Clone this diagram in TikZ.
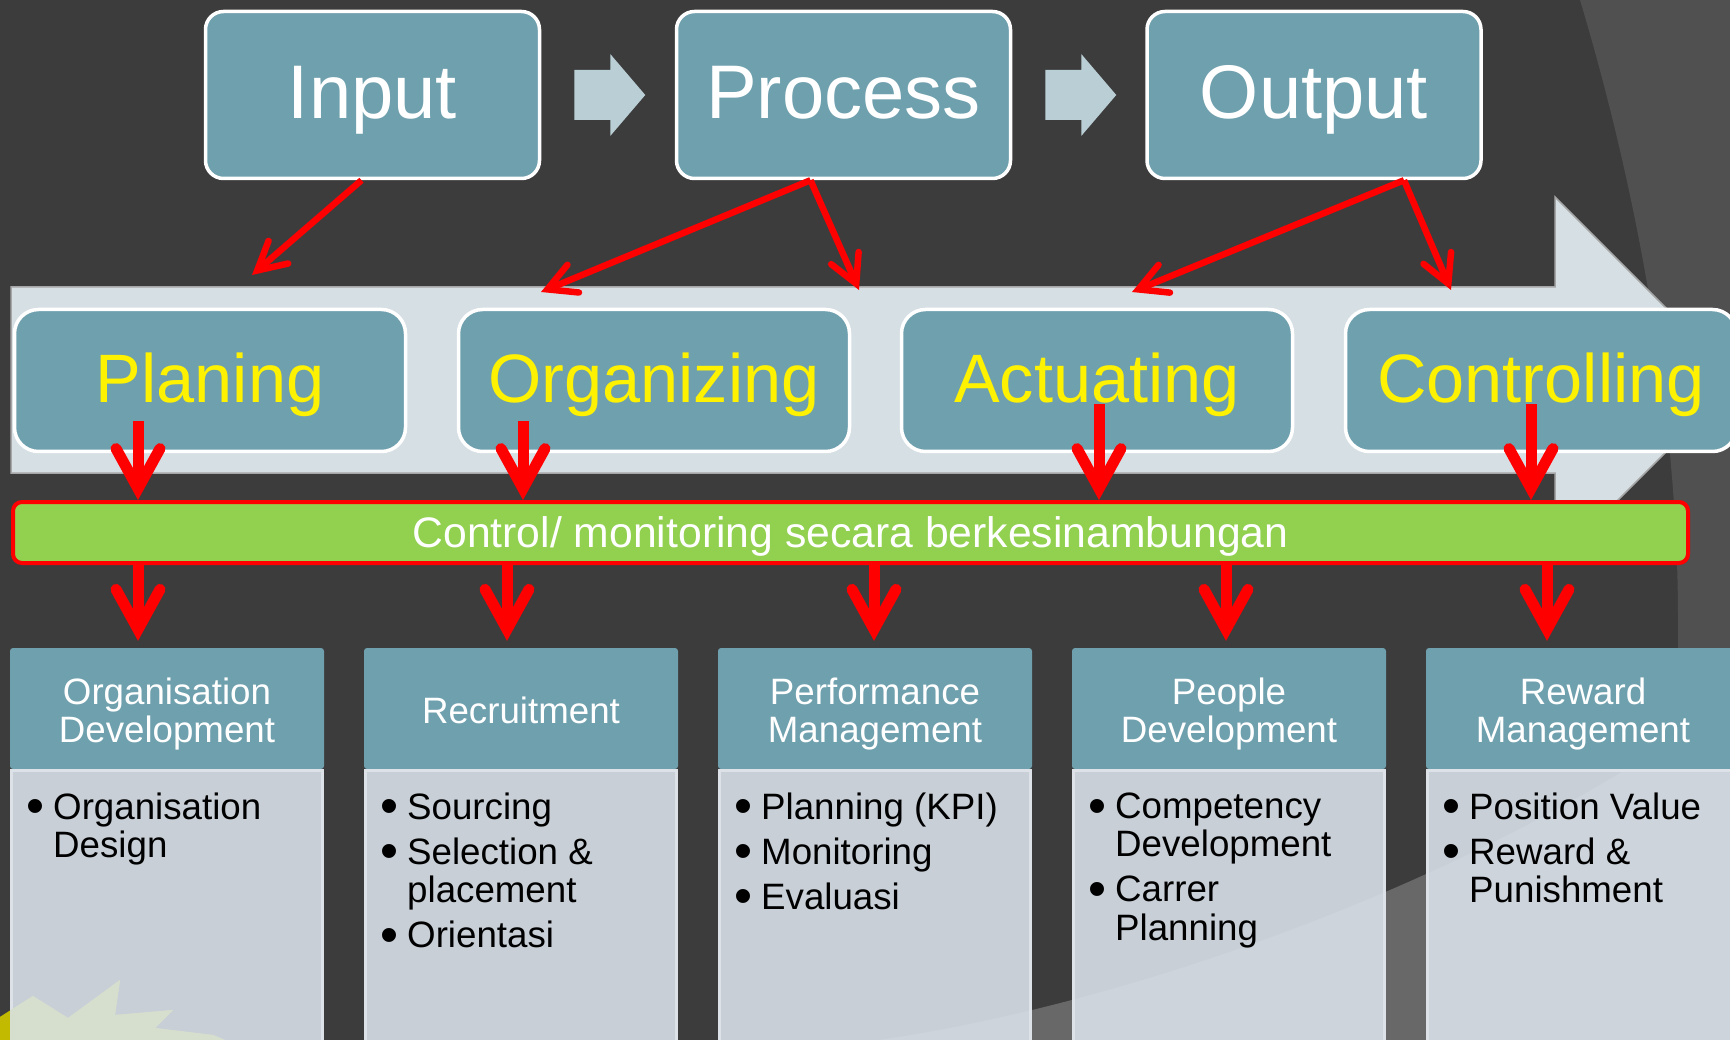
\documentclass[tikz,border=0pt]{standalone}
\usepackage{fontspec}
\setmainfont{Liberation Sans}
\usepackage{graphicx}
\usepackage{tikz}
\usetikzlibrary{arrows.meta, calc}

\definecolor{latar}{HTML}{3C3C3C}
\definecolor{latarterang}{HTML}{505050}
\definecolor{busur}{HTML}{686868}
\definecolor{biru}{HTML}{6FA0AE}
\definecolor{pita}{HTML}{D6DFE4}
\definecolor{abupanah}{HTML}{BACED5}
\definecolor{hijau}{HTML}{92D050}
\definecolor{isikotak}{HTML}{D8E0E8}
\definecolor{garisisi}{HTML}{DCE2E7}
\definecolor{kuning}{HTML}{C2BA00}
\definecolor{bintang}{HTML}{D6DECE}

\newcommand{\butir}{\makebox[27pt][l]{\raisebox{-4.5pt}{\scalebox{1.4}{\textbullet}}}}
\newcommand{\sambung}{\hspace*{27pt}}
\newcommand{\tinggi}{\rule{0pt}{38pt}}

\tikzset{
  atas/.style={draw=white, line width=3.5pt, fill=biru, rounded corners=18pt,
    minimum width=334pt, minimum height=167pt, text=white,
    font=\fontsize{76}{80}\selectfont, text height=54pt, text depth=6pt},
  tengah/.style={draw=white, line width=3.5pt, fill=biru, rounded corners=24pt,
    minimum width=391pt, minimum height=142pt, text=yellow,
    font=\fontsize{68.5}{72}\selectfont, text height=49pt, text depth=5pt},
  bar/.style={draw=red, line width=4pt, fill=hijau, rounded corners=9pt,
    minimum width=1675pt, minimum height=61pt, text=white,
    font=\fontsize{42.7}{46}\selectfont, text height=30pt, text depth=0pt},
  kepala/.style={fill=biru, rounded corners=3pt, minimum width=314pt,
    minimum height=121pt, inner sep=0pt, text=white, align=center,
    font=\fontsize{36.7}{38}\selectfont},
  badan/.style={fill=isikotak, fill opacity=0.9, draw=garisisi, line width=3pt,
    minimum width=311pt, minimum height=300pt, anchor=north},
  teks/.style={anchor=north west, inner sep=0pt, align=left, text=black,
    font=\fontsize{36.7}{38.4}\selectfont},
  panah/.style={draw=red, line width=11pt,
    -{Straight Barb[length=40pt, width=44pt, line cap=round, line join=miter]}},
  panahmiring/.style={draw=red, line width=6.5pt,
    -{Straight Barb[length=28pt, width=30pt, line cap=round, line join=miter]}}
}

\begin{document}
\begin{tikzpicture}[x=1pt, y=-1pt]

% latar
\fill[latar] (0,0) rectangle (1730,1040);
\useasboundingbox (0,0) rectangle (1730,1040);
\fill[latarterang] (1580,0) .. controls (1640,200) and (1678,420) .. (1678,620)
  -- (1678,1040) -- (1730,1040) -- (1730,0) -- cycle;
\fill[busur] (880,1040) .. controls (1150,1000) and (1500,870) .. (1730,700)
  -- (1730,1040) -- cycle;
\fill[kuning] (-5,1040) -- (-5,1020) -- (33,996) -- (68,1018) -- (120,980)
  -- (115,1015) -- (173,1010) -- (155,1028) -- (213,1035) -- (225,1040) -- cycle;

% kotak atas
\node[atas] (input) at (372.5,95) {Input};
\node[atas] (proses) at (843.5,95) {Process};
\node[atas] (output) at (1314,95) {Output};

\fill[abupanah] ($(input.east)+(33,-25)$) -- ++(36,0) -- ++(0,-16) -- ++(35,41)
  -- ++(-35,41) -- ++(0,-16) -- ++(-36,0) -- cycle;
\fill[abupanah] ($(proses.east)+(33,-25)$) -- ++(36,0) -- ++(0,-16) -- ++(35,41)
  -- ++(-35,41) -- ++(0,-16) -- ++(-36,0) -- cycle;

% pita panah besar
\filldraw[fill=pita, draw=black!35, line width=1.5pt] (11,287) -- (1555,287)
  -- (1555,197) -- (1738,380) -- (1555,563) -- (1555,473) -- (11,473) -- cycle;

% fungsi manajemen
\node[tengah] (plan) at (210,380.5) {Planing};
\node[tengah] (org) at (654,380.5) {Organizing};
\node[tengah] (akt) at (1097,380.5) {Actuating};
\node[tengah] (kon) at (1541,380.5) {Controlling};

\node[bar] (kontrol) at (850.5,532.5) {Control/ monitoring secara berkesinambungan};

% kotak bawah
\node[kepala] (od) at (167,708.5) {\tinggi Organisation\\Development};
\node[kepala] (rek) at (521,708.5) {\tinggi\vphantom{p}Recruitment};
\node[kepala] (kin) at (875,708.5) {\tinggi Performance\\Management};
\node[kepala] (pd) at (1229,708.5) {\tinggi People\\Development};
\node[kepala] (rm) at (1583,708.5) {\tinggi Reward\\Management};

\node[badan] (b1) at (od.south) {};
\node[badan] (b2) at (rek.south) {};
\node[badan] (b3) at (kin.south) {};
\node[badan] (b4) at (pd.south) {};
\node[badan] (b5) at (rm.south) {};

\begin{scope}
  \clip (b1.north west) rectangle (b1.south east);
  \fill[bintang] (-5,1040) -- (-5,1020) -- (33,996) -- (68,1018)
    -- (120,980) -- (115,1015) -- (173,1010) -- (155,1028) -- (213,1035)
    -- (225,1040) -- cycle;
\end{scope}

\node[teks] (t1) at ($(b1.north west)+(16,23.5)$)
  {\butir Organisation\\ \sambung Design};
\node[teks] (t2) at ($(b2.north west)+(16,23.5)$)
  {\butir Sourcing\\[6.6pt] \butir Selection \&\\ \sambung placement\\[6.6pt] \butir Orientasi};
\node[teks] (t3) at ($(b3.north west)+(16,23.5)$)
  {\butir Planning (KPI)\\[6.6pt] \butir Monitoring\\[6.6pt] \butir Evaluasi};
\node[teks] (t4) at ($(b4.north west)+(16,23.5)$)
  {\butir Competency\\ \sambung Development\\[6.6pt] \butir Carrer\\ \sambung Planning};
\node[teks] (t5) at ($(b5.north west)+(16,23.5)$)
  {\butir Position Value\\[6.6pt] \butir Reward \&\\ \sambung Punishment};

% panah merah
\coordinate (u1) at (252,275);
\coordinate (u2) at (541,292);
\coordinate (u3) at (859,290);
\coordinate (u4) at (1132,292);
\coordinate (u5) at (1451,290);
\draw[panahmiring] ([xshift=-11pt]input.south) -- (u1);
\draw[panahmiring] ([xshift=-33pt]proses.south) -- (u2);
\draw[panahmiring] ([xshift=-33pt]proses.south) -- (u3);
\draw[panahmiring] ([xshift=90pt]output.south) -- (u4);
\draw[panahmiring] ([xshift=90pt]output.south) -- (u5);

\draw[panah] ([xshift=-72pt,yshift=32pt]plan.south) coordinate (a1) -- (a1 |- kontrol.north);
\draw[panah] ([xshift=-131pt,yshift=32pt]org.south) coordinate (a2) -- (a2 |- kontrol.north);
\draw[panah] ([xshift=2pt,yshift=49pt]akt.south) coordinate (a3) -- (a3 |- kontrol.north);
\draw[panah] ([xshift=-10pt,yshift=49pt]kon.south) coordinate (a4) -- (a4 |- kontrol.north);

\path ([xshift=-29pt,yshift=7pt]od.north) coordinate (c1);
\path ([xshift=-14pt,yshift=7pt]rek.north) coordinate (c2);
\path ([xshift=-1pt,yshift=7pt]kin.north) coordinate (c3);
\path ([xshift=-3pt,yshift=7pt]pd.north) coordinate (c4);
\path ([xshift=-36pt,yshift=7pt]rm.north) coordinate (c5);
\draw[panah] (c1 |- kontrol.south) -- (c1);
\draw[panah] (c2 |- kontrol.south) -- (c2);
\draw[panah] (c3 |- kontrol.south) -- (c3);
\draw[panah] (c4 |- kontrol.south) -- (c4);
\draw[panah] (c5 |- kontrol.south) -- (c5);

\end{tikzpicture}
\end{document}
